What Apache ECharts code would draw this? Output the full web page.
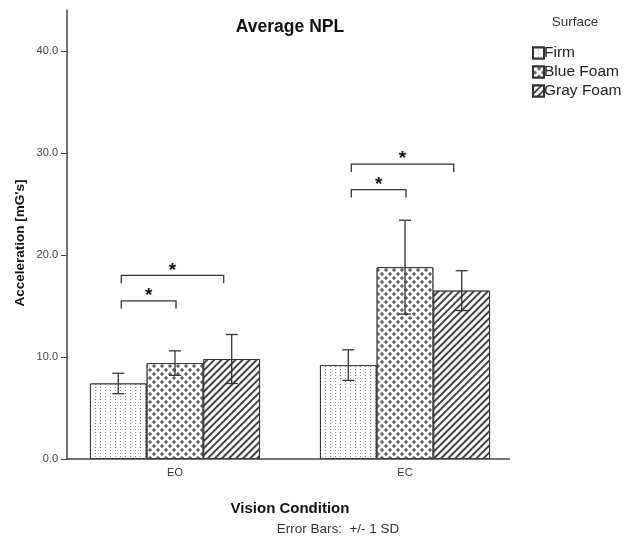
<!DOCTYPE html>
<html>
<head>
<meta charset="utf-8">
<script src="https://cdn.jsdelivr.net/npm/echarts@6/dist/echarts.min.js"></script>
<style>html,body{margin:0;padding:0;background:#fff}#c{width:626px;height:542px}</style>
</head>
<body>
<div id="c"></div>
<script>
const categories = ['EO', 'EC'];
const surfaces = ['Firm', 'Blue Foam', 'Gray Foam'];
const firmMean = [7.4, 9.2];
const firmSD = [1.0, 1.5];
const blueMean = [9.4, 18.8];
const blueSD = [1.2, 4.6];
const grayMean = [9.8, 16.5];
const graySD = [2.4, 1.95];
const yTicks = [0, 10, 20, 30, 40];
// significance brackets: category index, from surface index, to surface index, height
const bracketCat = [0, 0, 1, 1];
const bracketFrom = [0, 0, 0, 0];
const bracketTo = [1, 2, 1, 2];
const bracketY = [15.5, 18.0, 26.4, 28.9];

const means = [firmMean, blueMean, grayMean];
const sds = [firmSD, blueSD, graySD];
const BAR_W = 56.7;
const FONT = '"Liberation Sans", Arial, sans-serif';

const plusPath = 'path://M3,0 L5,0 L5,3 L8,3 L8,5 L5,5 L5,8 L3,8 L3,5 L0,5 L0,3 L3,3 Z';
const decals = [
  { symbol: 'rect', symbolSize: 1, color: '#8a8a8a', backgroundColor: '#ffffff',
    dashArrayX: [1, 4], dashArrayY: [1, 2] },
  { symbol: plusPath, symbolSize: 1, color: '#333333', backgroundColor: '#ffffff',
    dashArrayX: [[4, 4], [0, 4, 4, 0]], dashArrayY: [4, 0] },
  { symbol: 'rect', symbolSize: 1, color: '#444444', backgroundColor: '#ffffff',
    dashArrayX: [1, 0], dashArrayY: [1.5, 2.2], rotation: -Math.PI / 4 }
];

const barSeries = surfaces.map((name, i) => ({
  name: name,
  type: 'bar',
  data: means[i],
  barWidth: BAR_W,
  barGap: '0%',
  itemStyle: { color: '#ffffff', borderColor: '#333333', borderWidth: 1, decal: decals[i] },
  emphasis: { disabled: true },
  z: 2
}));

const errSeries = surfaces.map((name, i) => ({
  type: 'custom',
  name: name + ' err',
  data: categories.map((c, k) => [k, means[i][k], sds[i][k]]),
  encode: { x: 0, y: 1 },
  z: 5,
  silent: true,
  renderItem: function (params, api) {
    const k = api.value(0), m = api.value(1), s = api.value(2);
    const c = api.coord([k, m]);
    const x = c[0] + (i - 1) * BAR_W;
    const yt = api.coord([k, m + s])[1];
    const yb = api.coord([k, m - s])[1];
    const st = { stroke: '#333333', lineWidth: 1.3, fill: null };
    return { type: 'group', children: [
      { type: 'line', shape: { x1: x, y1: yt, x2: x, y2: yb }, style: st },
      { type: 'line', shape: { x1: x - 6, y1: yt, x2: x + 6, y2: yt }, style: st },
      { type: 'line', shape: { x1: x - 6, y1: yb, x2: x + 6, y2: yb }, style: st }
    ]};
  }
}));

const bracketSeries = {
  type: 'custom',
  name: 'sig',
  data: bracketY.map((y, j) => [bracketCat[j], bracketFrom[j], bracketTo[j], y]),
  encode: { x: 0, y: 3 },
  z: 5,
  silent: true,
  renderItem: function (params, api) {
    const k = api.value(0), f = api.value(1), t = api.value(2), y = api.value(3);
    const c = api.coord([k, y]);
    const x1 = c[0] + (f - 1) * BAR_W + 3;
    const x2 = c[0] + (t - 1) * BAR_W + (t === 2 ? -8 : 1);
    const py = c[1];
    const st = { stroke: '#333333', lineWidth: 1.3, fill: null };
    return { type: 'group', children: [
      { type: 'polyline', shape: { points: [[x1, py + 8], [x1, py], [x2, py], [x2, py + 8]] }, style: st },
      { type: 'text', style: { text: '*', x: (x1 + x2) / 2, y: py - 5, align: 'center', verticalAlign: 'middle',
        font: 'bold 19px ' + FONT, fill: '#111' } }
    ]};
  }
};

const chart = echarts.init(document.getElementById('c'), null, { renderer: 'canvas' });
chart.setOption({
  animation: false,
  backgroundColor: '#ffffff',
  grid: { left: 60, right: 106, top: 10, bottom: 83 },
  legend: {
    orient: 'vertical', left: 527, top: 40, itemWidth: 11, itemHeight: 11, itemGap: 3,
    icon: 'rect', data: surfaces, selectedMode: false,
    textStyle: { fontFamily: FONT, fontSize: 15.5, color: '#222', padding: [0, 0, 0, -5] }
  },
  graphic: [
    { id: 'title', type: 'text', x: 290, y: 27, style: { text: 'Average NPL', font: 'bold 17.5px ' + FONT, fill: '#111', align: 'center', verticalAlign: 'middle' } },
    { id: 'legendTitle', type: 'text', x: 575, y: 22, style: { text: 'Surface', font: '13.5px ' + FONT, fill: '#333', align: 'center', verticalAlign: 'middle' } },
    { id: 'yName', type: 'text', x: 20, y: 243, rotation: Math.PI / 2, style: { text: "Acceleration [mG's]", font: 'bold 13.5px ' + FONT, fill: '#111', align: 'center', verticalAlign: 'middle' } },
    { id: 'note', type: 'text', x: 338, y: 529, style: { text: 'Error Bars:  +/- 1 SD', font: '13.5px ' + FONT, fill: '#333', align: 'center', verticalAlign: 'middle' } }
  ],
  xAxis: {
    type: 'category', data: categories,
    name: 'Vision Condition', nameLocation: 'middle', nameGap: 42,
    nameTextStyle: { fontFamily: FONT, fontSize: 15, fontWeight: 'bold', color: '#111' },
    axisLine: { show: false },
    axisTick: { alignWithLabel: true, length: 5, lineStyle: { color: '#444' } },
    axisLabel: { fontFamily: FONT, fontSize: 11, color: '#333', margin: 8 },
    splitLine: { show: false }
  },
  yAxis: {
    type: 'value', min: 0, max: 44, interval: 10, offset: -7,
    axisLine: { show: true, lineStyle: { color: '#444', width: 1.5 } },
    axisTick: { show: true, length: 6, customValues: yTicks, lineStyle: { color: '#444' } },
    axisLabel: { fontFamily: FONT, fontSize: 11, color: '#444', margin: 9, customValues: yTicks,
      formatter: v => v.toFixed(1) },
    splitLine: { show: false }
  },
  series: barSeries.concat(errSeries).concat([bracketSeries])
});

// x axis baseline: from the y axis to a little past the last bar group
const p0 = chart.convertToPixel({ xAxisIndex: 0, yAxisIndex: 0 }, [0, 0]);
const p1 = chart.convertToPixel({ xAxisIndex: 0, yAxisIndex: 0 }, [1, 0]);
const yAxisX = p0[0] - 108;
chart.setOption({
  graphic: [
    { id: 'baseline', type: 'line', z: 10, shape: { x1: yAxisX, y1: p0[1], x2: p1[0] + 105, y2: p1[1] },
      style: { stroke: '#444', lineWidth: 1.5 } }
  ]
});
</script>
</body>
</html>
